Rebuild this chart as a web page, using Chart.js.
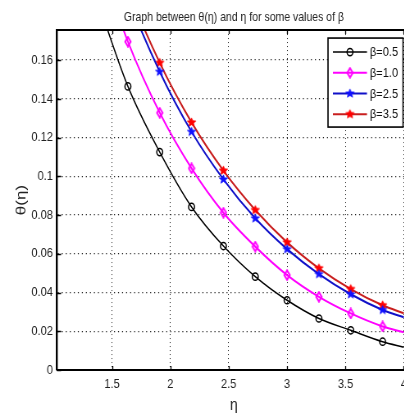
<!DOCTYPE html>
<html>
<head>
<meta charset="utf-8">
<script src="https://cdn.jsdelivr.net/npm/chart.js@4.4.1/dist/chart.umd.min.js"></script>
<style>
  html, body { margin: 0; padding: 0; background: #fff; overflow: hidden; width: 404px; height: 416px; }
  /* the figure is laid out wide and shown horizontally compressed */
  #wrap { position: absolute; left: 0; top: 0; width: 512px; height: 416px;
          transform: scaleX(0.82); transform-origin: 0 0; }
</style>
</head>
<body>
<div id="wrap"><canvas id="c" width="512" height="416"></canvas></div>
<script>
// η sample positions (markers every 3/11); the last one only continues the line
const ETA = [15/11, 18/11, 21/11, 24/11, 27/11, 30/11, 33/11, 36/11, 39/11, 42/11, 4];

// θ(η) for each β
const THETA_B05 = [0.1930, 0.1464, 0.1125, 0.0842, 0.0640, 0.0482, 0.0360, 0.0266, 0.0205, 0.0146, 0.0118];
const THETA_B10 = [0.2170, 0.1695, 0.1328, 0.1041, 0.0812, 0.0637, 0.0490, 0.0378, 0.0292, 0.0225, 0.0195];
const THETA_B25 = [0.2410, 0.1925, 0.1540, 0.1230, 0.0984, 0.0783, 0.0624, 0.0495, 0.0391, 0.0310, 0.0272];
const THETA_B35 = [0.2460, 0.1970, 0.1586, 0.1278, 0.1029, 0.0826, 0.0659, 0.0525, 0.0418, 0.0334, 0.0293];

const SERIES_LABELS = ['β=0.5', 'β=1.0', 'β=2.5', 'β=3.5'];

const X_TICKS = [1.5, 2, 2.5, 3, 3.5, 4];
const Y_TICKS = [0, 0.02, 0.04, 0.06, 0.08, 0.1, 0.12, 0.14, 0.16];

const FONT = "'Liberation Sans', Arial, Helvetica, sans-serif";

// ---- marker glyphs ----
function glyph(w, h, paint) {
  const c = document.createElement('canvas');
  c.width = w; c.height = h;
  paint(c.getContext('2d'), w, h);
  return c;
}
function diamond(color) {
  return glyph(10, 12, (g, w, h) => {
    g.strokeStyle = color; g.lineWidth = 2;
    g.beginPath();
    g.moveTo(w / 2, 1.3); g.lineTo(w - 1.6, h / 2); g.lineTo(w / 2, h - 1.3); g.lineTo(1.6, h / 2);
    g.closePath(); g.stroke();
  });
}
function star(color, R, r) {
  const s = Math.ceil(R * 2.4 + 3);
  return glyph(s, s, (g, w, h) => {
    g.fillStyle = color; g.strokeStyle = color; g.lineWidth = 0.8;
    g.beginPath();
    for (let i = 0; i < 10; i++) {
      const a = -Math.PI / 2 + i * Math.PI / 5;
      const rad = i % 2 ? r : R;
      const px = w / 2 + rad * Math.cos(a) * 1.18, py = h / 2 + rad * Math.sin(a);
      i ? g.lineTo(px, py) : g.moveTo(px, py);
    }
    g.closePath(); g.fill(); g.stroke();
  });
}
const MK_DIAMOND = diamond('#ff00ff');
const MK_STAR_BLUE = star('#1010ff', 4.6, 2.0);
const MK_STAR_RED = star('#ff0000', 4.6, 2.2);

function points(ys) { return ETA.map((x, i) => ({ x, y: ys[i] })); }
const lastIdx = ETA.length - 1;
function styleOrNone(style) { return c => (c.dataIndex === lastIdx ? false : style); }

const datasets = [
  { label: SERIES_LABELS[0], data: points(THETA_B05), borderColor: '#000000', borderWidth: 1.5,
    pointStyle: styleOrNone('circle'), pointRadius: 3.6, pointBorderWidth: 1.5,
    pointBorderColor: '#000000', pointBackgroundColor: 'rgba(0,0,0,0)' },
  { label: SERIES_LABELS[1], data: points(THETA_B10), borderColor: '#ff00ff', borderWidth: 2,
    pointStyle: styleOrNone(MK_DIAMOND), pointRadius: 4 },
  { label: SERIES_LABELS[2], data: points(THETA_B25), borderColor: '#1010c8', borderWidth: 2,
    pointStyle: styleOrNone(MK_STAR_BLUE), pointRadius: 4 },
  { label: SERIES_LABELS[3], data: points(THETA_B35), borderColor: '#c81e1e', borderWidth: 2,
    pointStyle: styleOrNone(MK_STAR_RED), pointRadius: 4 }
].map(d => Object.assign(d, { cubicInterpolationMode: 'monotone', clip: 0, fill: false }));

// Axis frame, inward tick marks and the boxed legend
const framePlugin = {
  id: 'frameAndLegend',
  afterDatasetsDraw(chart) {
    const { ctx, chartArea: a, scales: { x, y } } = chart;
    ctx.save();
    ctx.strokeStyle = '#000';
    ctx.lineWidth = 2;
    ctx.beginPath();
    ctx.moveTo(a.left, a.top); ctx.lineTo(a.right, a.top);
    ctx.stroke();
    ctx.lineWidth = 2.4;
    ctx.beginPath();
    ctx.moveTo(a.right, a.top); ctx.lineTo(a.right, a.bottom);
    ctx.stroke();

    ctx.lineWidth = 1.3;
    ctx.beginPath();
    X_TICKS.forEach(v => {
      const px = Math.round(x.getPixelForValue(v)) + 0.5;
      ctx.moveTo(px, a.bottom); ctx.lineTo(px, a.bottom - 4);
      ctx.moveTo(px, a.top); ctx.lineTo(px, a.top + 4);
    });
    Y_TICKS.forEach(v => {
      const py = Math.round(y.getPixelForValue(v)) + 0.5;
      ctx.moveTo(a.left, py); ctx.lineTo(a.left + 5, py);
      ctx.moveTo(a.right, py); ctx.lineTo(a.right - 5, py);
    });
    ctx.stroke();

    // legend box
    const bw = 91.5, bh = 89;
    const bx = a.right - 9.5 - bw, by = a.top + 8;
    ctx.fillStyle = '#fff';
    ctx.fillRect(bx, by, bw, bh);
    ctx.lineWidth = 1.6;
    ctx.strokeStyle = '#000';
    ctx.strokeRect(bx, by, bw, bh);

    ctx.font = '13.5px ' + FONT;
    ctx.textBaseline = 'middle';
    ctx.textAlign = 'left';
    chart.data.datasets.forEach((ds, i) => {
      const ry = by + 14 + i * 20.7;
      ctx.strokeStyle = ds.borderColor;
      ctx.lineWidth = ds.borderWidth;
      ctx.beginPath(); ctx.moveTo(bx + 6, ry); ctx.lineTo(bx + 47.5, ry); ctx.stroke();
      const style = ds.pointStyle({ dataIndex: 0 });
      ctx.strokeStyle = ds.pointBorderColor || ds.borderColor;
      ctx.fillStyle = 'rgba(0,0,0,0)';
      ctx.lineWidth = ds.pointBorderWidth || 1;
      Chart.helpers.drawPoint(ctx, {
        pointStyle: style, radius: ds.pointRadius, rotation: 0,
        borderWidth: ds.pointBorderWidth || 1
      }, bx + 26.8, ry);
      ctx.fillStyle = '#111';
      ctx.fillText(ds.label, bx + 51, ry + 0.5);
    });
    ctx.restore();
  }
};

new Chart(document.getElementById('c'), {
  type: 'line',
  data: { datasets },
  plugins: [framePlugin],
  options: {
    responsive: false,
    animation: false,
    events: [],
    layout: { padding: { top: 0, right: 11, left: 0, bottom: 0 } },
    plugins: {
      legend: { display: false },
      tooltip: { enabled: false },
      title: {
        display: true,
        fullSize: false,
        text: 'Graph between θ(η) and η for some values of β',
        color: '#222',
        font: { family: FONT, size: 12.8, weight: 'normal' },
        padding: { top: 9.5, bottom: 5.2 }
      }
    },
    scales: {
      x: {
        type: 'linear',
        min: 1.029,
        max: 4.06,
        afterBuildTicks: s => { s.ticks = X_TICKS.map(v => ({ value: v })); },
        afterFit: s => { s.height = 46; },
        ticks: {
          color: '#222', font: { family: FONT, size: 13.5 }, padding: 6,
          maxRotation: 0, autoSkip: false, callback: v => String(v)
        },
        grid: { color: '#222', lineWidth: 1, drawTicks: false },
        border: { display: true, color: '#000', width: 2, dash: [1, 3] },
        title: { display: true, text: 'η', color: '#222',
          font: { family: FONT, size: 17 }, padding: { top: 0, bottom: 0 } }
      },
      y: {
        type: 'linear',
        min: 0,
        max: 0.1755,
        afterBuildTicks: s => { s.ticks = Y_TICKS.map(v => ({ value: v })); },
        afterFit: s => { s.width = 69.5; },
        ticks: {
          color: '#222', font: { family: FONT, size: 13.5 }, padding: 5,
          autoSkip: false, callback: v => String(+v.toFixed(2))
        },
        grid: { color: '#222', lineWidth: 1.2, drawTicks: false },
        border: { display: true, color: '#000', width: 2.4, dash: [1.25, 3.65] },
        title: { display: true, text: 'θ(η)', color: '#222',
          font: { family: FONT, size: 17 }, padding: { top: 16, bottom: 0 } }
      }
    }
  }
});
</script>
</body>
</html>
